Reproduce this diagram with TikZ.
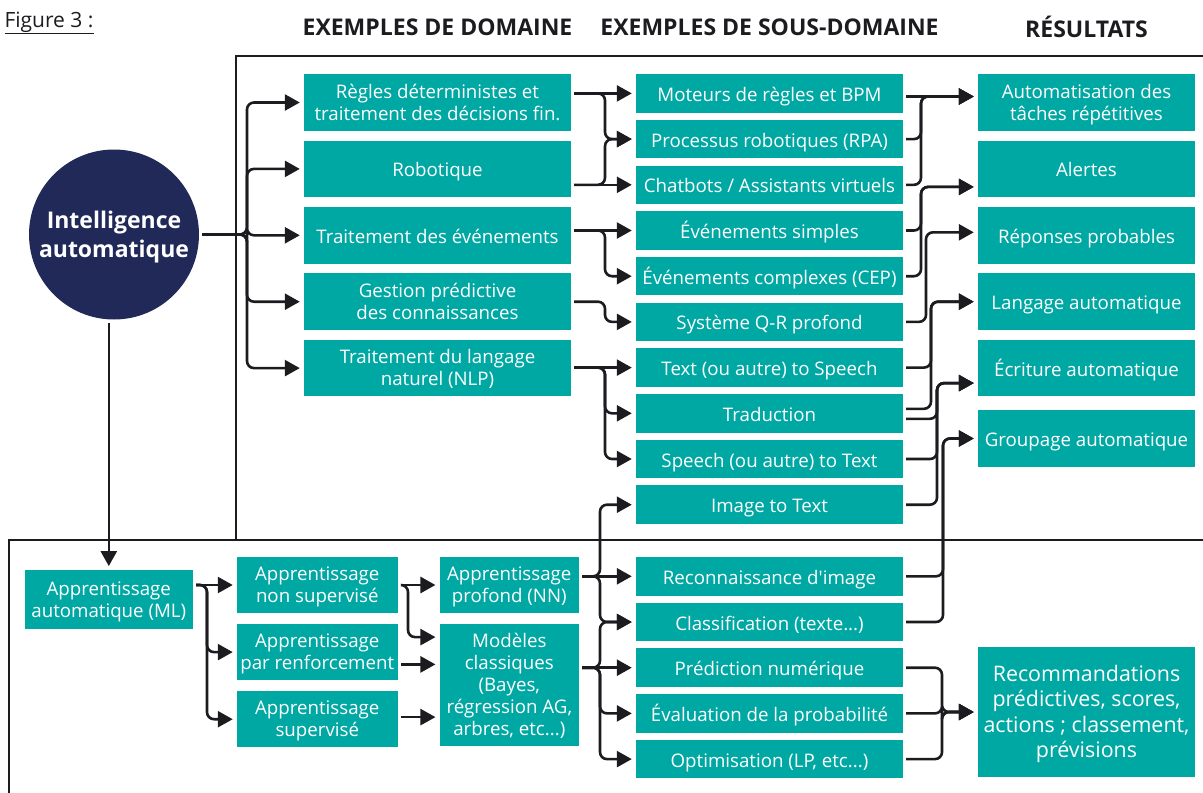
\documentclass[tikz,border=0pt]{standalone}
\usepackage{fontspec}
\setmainfont{Open Sans}[Ligatures=TeXOff]
\usepackage{xcolor}
\usetikzlibrary{positioning, arrows.meta}

\definecolor{teal1}{RGB}{0,168,164}
\definecolor{navy1}{RGB}{32,41,88}
\definecolor{ink}{RGB}{28,28,32}

\begin{document}
\begin{tikzpicture}[
  x=1pt, y=-1pt,
  box/.style={fill=teal1, text=white, inner sep=0pt, align=center,
              font=\fontsize{18.7}{22}\selectfont,
              execute at begin node={\rule{0pt}{21pt}},
              execute at end node={\rule[-5pt]{0pt}{5pt}}},
  lift/.style={execute at begin node={\rule{0pt}{#1}}},
  two/.style={lift=40.5pt},
  dom/.style={box, minimum width=267pt, minimum height=56.5pt},
  sub/.style={box, minimum width=267pt, minimum height=38.5pt},
  res/.style={box, minimum width=217pt, minimum height=56.5pt},
  lbox/.style={box, two, minimum width=160.7pt, minimum height=56pt},
  head/.style={font=\bfseries\fontsize{23}{26}\selectfont, text=ink},
  arr/.style={-{Triangle[length=15pt, width=16pt]}, line width=2.6pt, draw=ink,
              rounded corners=7pt, shorten >=4pt, shorten <=3pt},
  frame/.style={line width=2.6pt, draw=ink},
  node distance=9.5pt
]
\useasboundingbox (0,0) rectangle (1203,793);

% titles
\node[anchor=west, text=ink, font=\fontsize{21}{24}\selectfont] (fig) at (1,23) {\underline{Figure 3 :}};
\node[head] (h1) at (437.5,27) {EXEMPLES DE DOMAINE};
\node[head] (h2) at (769.5,27) {EXEMPLES DE SOUS-DOMAINE};
\node[head] (h3) at (1086.5,27) {RÉSULTATS};

% frames
\draw[frame] (1203,56) -- (236,56) -- (236,540);
\draw[frame] (1203,540) -- (9,540) -- (9,793);

\node[circle, fill=navy1, minimum size=170pt, inner sep=0pt, align=center, text=white,
      font=\bfseries\fontsize{23}{29}\selectfont, lift=52.5pt,
      execute at end node={\rule[-5.5pt]{0pt}{5.5pt}}] (ia) at (114,234.5) {Intelligence\\automatique};

% domains
\node[dom, two] (d1) at (437.5,102.5) {Règles déterministes et\\traitement des décisions fin.};
\node[dom, below=of d1] (d2) {Robotique};
\node[dom, below=of d2] (d3) {Traitement des événements};
\node[dom, two, below=of d3] (d4) {Gestion prédictive\\des connaissances};
\node[dom, two, below=of d4] (d5) {Traitement du langage\\naturel (NLP)};

% sub-domains
\node[sub] (s1) at (769.5,93.4) {Moteurs de règles et BPM};
\node[sub, below=6.8pt of s1] (s2) {Processus robotiques (RPA)};
\node[sub, below=6.8pt of s2] (s3) {Chatbots / Assistants virtuels};
\node[sub, below=6.8pt of s3] (s4) {Événements simples};
\node[sub, below=6.8pt of s4] (s5) {Événements complexes (CEP)};
\node[sub, below=6.8pt of s5] (s6) {Système Q-R profond};
\node[sub, below=6.8pt of s6] (s7) {Text (ou autre) to Speech};
\node[sub, below=6.8pt of s7] (s8) {Traduction};
\node[sub, below=6.8pt of s8] (s9) {Speech (ou autre) to Text};
\node[sub, below=6.8pt of s9] (s10) {Image to Text};

\node[sub] (l1) at (769.5,576.3) {Reconnaissance d'image};
\node[sub, below=6.8pt of l1] (l2) {Classification (texte...)};
\node[sub, below=6.8pt of l2] (l3) {Prédiction numérique};
\node[sub, below=6.8pt of l3] (l4) {Évaluation de la probabilité};
\node[sub, below=6.8pt of l4] (l5) {Optimisation (LP, etc...)};

% results
\node[res, two] (r1) at (1086.5,102.5) {Automatisation des\\tâches répétitives};
\node[res, below=of r1] (r2) {Alertes};
\node[res, below=of r2] (r3) {Réponses probables};
\node[res, below=of r3] (r4) {Langage automatique};
\node[res, below=of r4] (r5) {Écriture automatique};
\node[res, below=13.5pt of r5] (r6) {Groupage automatique};
\node[box, lift=96.6pt, minimum width=217pt, minimum height=129.4pt, font=\fontsize{21.4}{25.5}\selectfont]
  (rec) at (1086.5,712) {Recommandations\\prédictives, scores,\\actions ; classement,\\prévisions};

% machine learning
\node[box, two, minimum width=168.3pt, minimum height=59pt] (aml) at (108.8,599.8) {Apprentissage\\automatique (ML)};
\node[lbox] (ans) at (317.3,585) {Apprentissage\\non supervisé};
\node[lbox, below=10.7pt of ans] (apr) {Apprentissage\\par renforcement};
\node[lbox, below=10.7pt of apr] (asu) {Apprentissage\\supervisé};
\node[box, two, minimum width=139.3pt, minimum height=56pt] (ann) at (509.3,585) {Apprentissage\\profond (NN)};
\node[box, lift=105.8pt, minimum width=139.3pt, minimum height=122pt, below=10.7pt of ann] (amc)
  {Modèles\\classiques\\(Bayes,\\régression AG,\\arbres, etc...)};

% bus lines
\coordinate (b1) at (247,0);
\coordinate (b2) at (605,0);
\coordinate (b3) at (921,0);
\coordinate (b5) at (926,0);
\coordinate (b9) at (931,0);
\coordinate (b10) at (937,0);
\coordinate (b11) at (943,0);
\coordinate (b12) at (942,0);
\coordinate (b6) at (207,0);
\coordinate (b7) at (408,0);
\coordinate (b8) at (600,0);

\coordinate (t1) at ([yshift=6pt]r1.west);
\coordinate (t2) at ([yshift=-18pt]r2.west);
\coordinate (t3) at ([yshift=3pt]r3.west);
\coordinate (t4) at (r4.west);
\coordinate (t5) at ([yshift=-15pt]r5.west);
\coordinate (t6) at (r6.west);
\coordinate (t7) at (rec.west);
\coordinate (u1) at ([yshift=48pt]amc.west);
\coordinate (u2) at ([yshift=20.7pt]amc.west);
\coordinate (u3) at ([yshift=-32pt]amc.west);

\foreach \d in {d1,d2,d3,d4,d5}
  \draw[arr] (ia.east) -| (b1 |- \d) -- (\d);

\draw[arr] (d1.east |- s1) -- (s1);
\draw[arr] (d1.east |- s1) -| (b2 |- s2) -- (s2);
\draw[arr] (d2.east |- s3) -- (s3);
\draw[arr] (d2.east |- s3) -| (b2 |- s2) -- (s2);
\draw[arr] (d3.east |- s4) -- (s4);
\draw[arr] (d3.east |- s4) -| (b2 |- s5) -- (s5);
\draw[arr] (d4.east) -| (b2 |- s6) -- (s6);
\draw[arr] (d5.east |- s7) -- (s7);
\foreach \s in {s8,s9}
  \draw[arr] (d5.east |- s7) -| (b2 |- \s) -- (\s);

\draw[arr] (s1.east |- t1) -- (t1);
\foreach \s in {s2,s3}
  \draw[arr] (\s.east) -| (b3 |- t1) -- (t1);
\foreach \s in {s4,s5}
  \draw[arr] (\s.east) -| (b3 |- t2) -- (t2);
\draw[arr] (s6.east) -| (b5 |- t3) -- (t3);
\draw[arr] (s7.east) -| (b9 |- t4) -- (t4);
\draw[arr] ([yshift=4.5pt]s8.east) -| (b9 |- t4) -- (t4);
\draw[arr] ([yshift=-5.5pt]s8.east) -| (b10 |- t5) -- (t5);
\foreach \s in {s9,s10}
  \draw[arr] (\s.east) -| (b10 |- t5) -- (t5);
\foreach \s in {l1,l2}
  \draw[arr] (\s.east) -| (b11 |- t6) -- (t6);
\foreach \s in {l3,l4,l5}
  \draw[arr] (\s.east) -| (b12 |- t7) -- (t7);

\draw[arr] (ia.south -| aml.north) -- (aml.north);
\draw[arr] (aml.east |- ans) -- (ans);
\foreach \a in {apr,asu}
  \draw[arr] (aml.east |- ans) -| (b6 |- \a) -- (\a);
\draw[arr] (ans) -- (ann);
\draw[arr] (ans.east) -| (b7 |- u1) -- (u1);
\draw[arr] (apr.east |- u2) -- (u2);
\draw[arr] (asu.east |- u3) -- (u3);

\draw[arr] (ann.east |- l1) -- (l1);
\foreach \s in {s10,l2}
  \draw[arr] (ann.east |- l1) -| (b8 |- \s) -- (\s);
\draw[arr] (amc.east |- l3) -- (l3);
\foreach \s in {l2,l4,l5}
  \draw[arr] (amc.east |- l3) -| (b8 |- \s) -- (\s);
\end{tikzpicture}
\end{document}
